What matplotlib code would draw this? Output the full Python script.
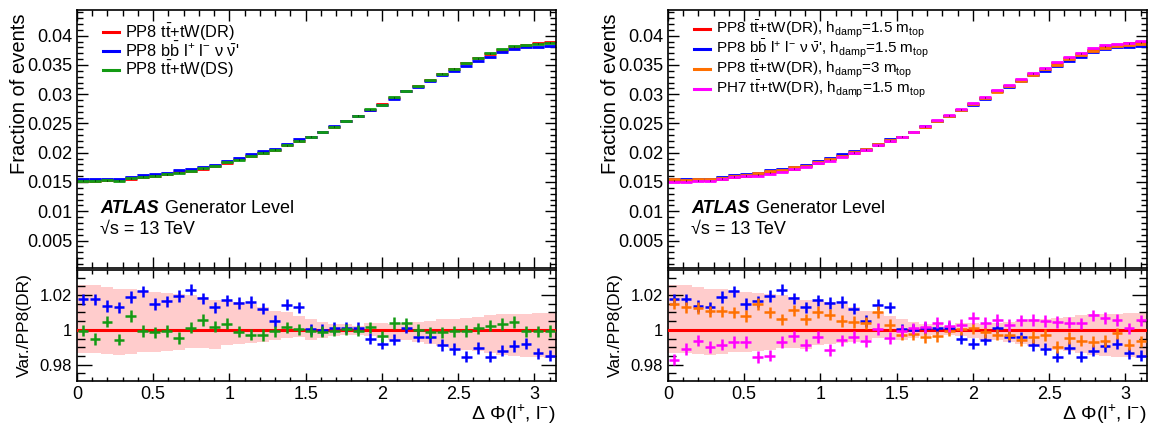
import numpy as np
import matplotlib
matplotlib.use("Agg")
import matplotlib.pyplot as plt
import matplotlib.ticker as ticker

plt.rcParams['font.family'] = 'Liberation Sans'
plt.rcParams['mathtext.fontset'] = 'custom'
plt.rcParams['mathtext.rm'] = 'Liberation Sans'
plt.rcParams['mathtext.it'] = 'Liberation Sans:italic'
plt.rcParams['mathtext.bf'] = 'Liberation Sans:bold'

# 40 bins of delta phi between 0 and pi
edges = np.linspace(0, np.pi, 41)
centers = 0.5 * (edges[:-1] + edges[1:])

# nominal PP8 tt+tW(DR), fraction of events per bin
nominal = [0.01523, 0.01523, 0.01529, 0.01529, 0.01557, 0.01592, 0.01609, 0.01632, 0.01667, 0.01690,
           0.01730, 0.01770, 0.01828, 0.01885, 0.01943, 0.02000, 0.02052, 0.02126, 0.02207, 0.02276,
           0.02356, 0.02448, 0.02546, 0.02632, 0.02736, 0.02833, 0.02943, 0.03052, 0.03144, 0.03241,
           0.03351, 0.03437, 0.03534, 0.03615, 0.03695, 0.03759, 0.03816, 0.03839, 0.03868, 0.03885]

# ratios to nominal
ratio_bb4l = [1.0176, 1.0176, 1.0137, 1.0129, 1.0189, 1.0222, 1.0149, 1.0164, 1.0195, 1.0232,
              1.0181, 1.0129, 1.0170, 1.0154, 1.0160, 1.0122, 1.0052, 1.0145, 1.0129, 1.0002,
              1.0000, 1.0010, 1.0012, 1.0012, 0.9950, 0.9921, 0.9944, 1.0012, 0.9961, 0.9956,
              0.9913, 0.9890, 0.9846, 0.9894, 0.9846, 0.9880, 0.9907, 0.9921, 0.9865, 0.9851]
ratio_ds = [0.9996, 0.9948, 1.0048, 0.9944, 1.0079, 0.9994, 0.9986, 0.9994, 0.9954, 1.0012,
            1.0056, 1.0019, 1.0035, 0.9990, 0.9973, 0.9971, 0.9992, 1.0015, 1.0002, 0.9992,
            0.9990, 0.9996, 1.0002, 0.9996, 1.0014, 0.9963, 1.0039, 1.0037, 0.9998, 0.9986,
            0.9985, 0.9992, 0.9994, 1.0008, 1.0025, 1.0033, 1.0044, 0.9992, 0.9992, 0.9994]
ratio_hdamp = [1.0151, 1.0129, 1.0127, 1.0106, 1.0106, 1.0100, 1.0081, 1.0148, 1.0100, 1.0060,
               1.0112, 1.0060, 1.0102, 1.0087, 1.0050, 1.0046, 1.0040, 1.0102, 1.0027, 0.9973,
               0.9977, 0.9959, 0.9963, 0.9996, 1.0006, 1.0008, 0.9986, 0.9973, 0.9973, 0.9940,
               0.9959, 0.9971, 0.9902, 0.9954, 0.9938, 0.9932, 0.9936, 0.9979, 0.9915, 0.9934]
ratio_ph7 = [0.9828, 0.9890, 0.9938, 0.9900, 0.9915, 0.9931, 0.9929, 0.9844, 0.9851, 0.9929,
             0.9963, 0.9913, 0.9958, 0.9884, 0.9940, 0.9958, 0.9936, 1.0006, 0.9954, 0.9994,
             1.0008, 1.0017, 1.0041, 1.0021, 1.0027, 1.0068, 1.0041, 1.0058, 1.0029, 1.0054,
             1.0056, 1.0052, 1.0044, 1.0041, 1.0037, 1.0083, 1.0069, 1.0056, 1.0008, 1.0054]

# uncertainty band in the ratio panel
band_up = [1.0259, 1.0257, 1.0247, 1.0235, 1.0234, 1.0226, 1.0218, 1.0214, 1.0205, 1.0199,
           1.0187, 1.0170, 1.0164, 1.0160, 1.0151, 1.0133, 1.0108, 1.0102, 1.0079, 1.0060,
           1.0044, 1.0031, 1.0031, 1.0025, 1.0041, 1.0037, 1.0031, 1.0037, 1.0046, 1.0050,
           1.0060, 1.0064, 1.0069, 1.0073, 1.0083, 1.0089, 1.0089, 1.0093, 1.0095, 1.0098]
band_dn = [0.9867, 0.9867, 0.9861, 0.9853, 0.9863, 0.9871, 0.9875, 0.9878, 0.9882, 0.9894,
           0.9898, 0.9890, 0.9913, 0.9921, 0.9923, 0.9929, 0.9944, 0.9952, 0.9956, 0.9944,
           0.9954, 0.9963, 0.9971, 0.9973, 0.9967, 0.9954, 0.9944, 0.9940, 0.9931, 0.9921,
           0.9909, 0.9896, 0.9886, 0.9876, 0.9867, 0.9857, 0.9851, 0.9844, 0.9842, 0.9838]

RED = '#ff0000'
BLUE = '#0000ff'
GREEN = '#139a13'
ORANGE = '#ff7000'
MAGENTA = '#ff00ff'

left_series = [
    ('PP8 t$\\bar{\\mathrm{t}}$+tW(DR)', RED, None),
    ('PP8 b$\\bar{\\mathrm{b}}$ l$^{+}$ l$^{-}$ ν $\\bar{\\mathrm{ν}}$\'', BLUE, ratio_bb4l),
    ('PP8 t$\\bar{\\mathrm{t}}$+tW(DS)', GREEN, ratio_ds),
]
right_series = [
    ('PP8 t$\\bar{\\mathrm{t}}$+tW(DR), h$_{\\mathrm{damp}}$=1.5 m$_{\\mathrm{top}}$', RED, None),
    ('PP8 b$\\bar{\\mathrm{b}}$ l$^{+}$ l$^{-}$ ν $\\bar{\\mathrm{ν}}$\', h$_{\\mathrm{damp}}$=1.5 m$_{\\mathrm{top}}$', BLUE, ratio_bb4l),
    ('PP8 t$\\bar{\\mathrm{t}}$+tW(DR), h$_{\\mathrm{damp}}$=3 m$_{\\mathrm{top}}$', ORANGE, ratio_hdamp),
    ('PH7 t$\\bar{\\mathrm{t}}$+tW(DR), h$_{\\mathrm{damp}}$=1.5 m$_{\\mathrm{top}}$', MAGENTA, ratio_ph7),
]


def style_axis(ax, ymajor, yminor, major_len, minor_len):
    ax.xaxis.set_major_locator(ticker.MultipleLocator(0.5))
    ax.xaxis.set_minor_locator(ticker.MultipleLocator(0.1))
    ax.yaxis.set_major_locator(ticker.MultipleLocator(ymajor))
    ax.yaxis.set_minor_locator(ticker.MultipleLocator(yminor))
    ax.tick_params(which='both', direction='in', top=True, right=True, width=1.0)
    ax.tick_params(which='major', length=major_len)
    ax.tick_params(which='minor', length=minor_len)
    for s in ax.spines.values():
        s.set_linewidth(1.2)


def draw_panel(fig, x0, series, leg_y0, leg_dy, leg_size):
    W, H = 1151.0, 434.0
    ax = fig.add_axes([x0 / W, (H - 268) / H, 479 / W, 258 / H])
    rax = fig.add_axes([x0 / W, (H - 381) / H, 479 / W, 111 / H])

    nom = np.array(nominal)
    for i, (label, color, ratio) in enumerate(series):
        vals = nom if ratio is None else nom * np.array(ratio)
        ax.stairs(vals + 0.00012, edges, baseline=vals - 0.00012, fill=True,
                  color=color, alpha=0.25, lw=0)
        ax.hlines(vals, edges[:-1], edges[1:], colors=color, lw=2.0)
        # legend entry
        ly = leg_y0 - i * leg_dy
        ax.plot([0.054, 0.088], [ly, ly], color=color, lw=2.2, transform=ax.transAxes)
        ax.text(0.1, ly, label, transform=ax.transAxes, fontsize=leg_size, va='center')
    ax.errorbar(centers, nom, yerr=0.00005, fmt='none', ecolor='black', elinewidth=0.6)

    ax.set_xlim(0, np.pi)
    ax.set_ylim(0.0003, 0.0444)
    style_axis(ax, 0.005, 0.001, 8, 4)
    ax.tick_params(labelbottom=False, labelsize=13)
    ax.yaxis.set_major_formatter(ticker.FuncFormatter(
        lambda v, _: '' if v < 1e-6 else ('%g' % round(v, 4))))
    ax.set_ylabel('Fraction of events', fontsize=14.5, loc='top')
    ax.yaxis.set_label_coords(-0.1, 0.985)

    ax.text(0.048, 0.215, 'ATLAS', transform=ax.transAxes, fontsize=13,
            fontweight='bold', fontstyle='italic', va='baseline')
    ax.text(0.184, 0.215, 'Generator Level', transform=ax.transAxes, fontsize=13, va='baseline')
    ax.text(0.048, 0.13, '√s = 13 TeV', transform=ax.transAxes, fontsize=13, va='baseline')

    # ratio panel
    rax.stairs(band_up, edges, baseline=band_dn, fill=True, color='#ffcccc', lw=0)
    rax.axhline(1.0, color=RED, lw=2.2, zorder=3)
    for label, color, ratio in series:
        if ratio is None:
            continue
        rax.errorbar(centers, ratio, xerr=0.45 * (edges[1] - edges[0]), yerr=0.0033,
                     fmt='none', ecolor=color, elinewidth=1.8, zorder=4)
    rax.set_xlim(0, np.pi)
    rax.set_ylim(0.9705, 1.0345)
    style_axis(rax, 0.02, 0.005, 11, 6)
    rax.tick_params(axis='x', which='major', length=6)
    rax.tick_params(axis='x', which='minor', length=3)
    rax.tick_params(labelsize=13)
    rax.tick_params(axis='y', labelsize=12)
    rax.xaxis.set_major_formatter(ticker.FuncFormatter(lambda v, _: '%g' % round(v, 2)))
    rax.yaxis.set_major_formatter(ticker.FuncFormatter(lambda v, _: '%g' % round(v, 3)))
    rax.set_ylabel('Var./PP8(DR)', fontsize=12.5)
    rax.yaxis.set_label_coords(-0.094, 0.5)
    rax.set_xlabel('Δ Φ(l$^{+}$, l$^{-}$)', fontsize=14, loc='right')
    rax.xaxis.set_label_coords(1.0, -0.2)
    return ax, rax


fig = plt.figure(figsize=(11.51, 4.34), dpi=100)
draw_panel(fig, 77, left_series, 0.915, 0.073, 11.8)
draw_panel(fig, 668, right_series, 0.925, 0.077, 11)
fig.savefig('out.png', dpi=100)
